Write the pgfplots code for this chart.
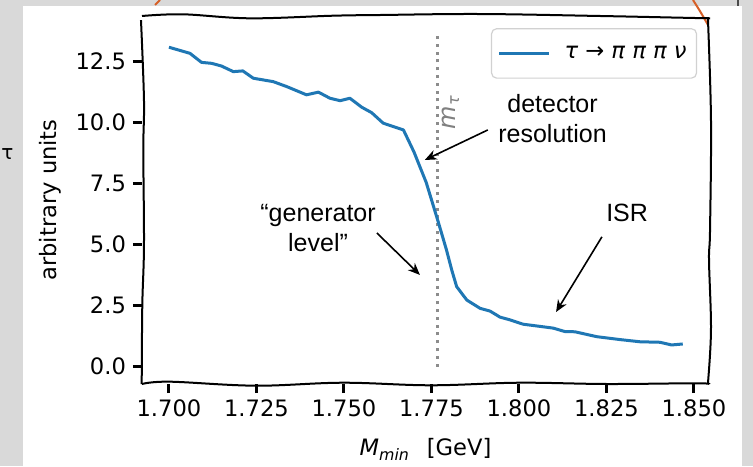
\documentclass[border=0pt]{standalone}
\usepackage{pgfplots}
\pgfplotsset{compat=1.18}
\usepackage{fontspec}
\setmainfont{DejaVu Sans}
\newfontfamily\helv{Liberation Sans}
\usetikzlibrary{arrows.meta}

\definecolor{slidegray}{RGB}{217,217,217}
\definecolor{mplblue}{RGB}{31,119,180}
\definecolor{slideorange}{RGB}{214,96,40}

% tau -> 3 pi nu : M_min distribution
\pgfplotstableread{
x       y
1.7000  13.09
1.7060  12.84
1.7093  12.47
1.7122  12.43
1.7150  12.32
1.7184  12.09
1.7211  12.12
1.7241  11.82
1.7298  11.68
1.7336  11.48
1.7393  11.14
1.7427  11.25
1.7460  11.00
1.7489  10.90
1.7517  11.00
1.7551  10.63
1.7579  10.41
1.7612   9.98
1.7641   9.84
1.7670   9.70
1.7700   8.80
1.7735   7.55
1.7769   5.95
1.7793   4.78
1.7808   3.96
1.7822   3.28
1.7851   2.73
1.7889   2.39
1.7917   2.28
1.7946   2.03
1.7974   1.92
1.8012   1.74
1.8050   1.67
1.8098   1.58
1.8131   1.44
1.8160   1.43
1.8222   1.23
1.8289   1.11
1.8346   1.02
1.8403   1.00
1.8436   0.89
1.8468   0.93
}\spectrum

\begin{document}
\begin{tikzpicture}[x=0.5pt,y=0.5pt]
\path[use as bounding box] (0,0) rectangle (753,466);
% slide background
\fill[slidegray] (0,0) rectangle (753,466);
\fill[white] (23,0) rectangle (742,460);
\draw[black!70, line width=0.6pt] (738,460) -- (738,466);
\draw[slideorange, line width=1pt] (155,461) -- (160,466);
\draw[slideorange, line width=1pt] (693,466) .. controls (700,455) .. (708,441);
\node[font=\fontsize{10}{12}\selectfont, anchor=west, inner sep=0pt] at (1,312) {τ};
\coordinate (axsw) at (142,82);

\begin{axis}[
  at={(axsw)}, anchor=south west,
  scale only axis, width=283.5pt, height=184pt,
  xmin=1.6923, xmax=1.8543, ymin=-0.71, ymax=14.37,
  clip=false,
  axis line style={draw=none},
  xtick={1.700,1.725,1.750,1.775,1.800,1.825,1.850},
  ytick={0,2.5,5,7.5,10,12.5},
  xtick pos=bottom, ytick pos=left,
  tick align=outside, major tick length=4.5pt,
  tick style={black, line width=1.5pt},
  tick label style={font=\fontsize{11.3}{13}\selectfont},
  /pgf/number format/assume math mode=true,
  scaled x ticks=false,
  xticklabel style={/pgf/number format/.cd, fixed, fixed zerofill, precision=3},
  yticklabel style={/pgf/number format/.cd, fixed, fixed zerofill, precision=1},
  xlabel={{\itshape M\textsubscript{min}}\hspace{0.75em}[GeV]},
  ylabel={arbitrary units},
  xlabel style={at={(axis description cs:0.5,-0.178)}, anchor=center, font=\fontsize{11.3}{13}\selectfont},
  ylabel style={at={(axis description cs:-0.162,0.5)}, anchor=center, font=\fontsize{11.3}{13}\selectfont},
  legend style={at={(axis description cs:0.979,0.967)}, anchor=north east,
    draw=black!18, rounded corners=2.5pt, fill=white, line width=0.6pt,
    font=\itshape\fontsize{11.3}{13}\selectfont,
    inner xsep=3pt, inner ysep=6.5pt},
  legend cell align=left,
  legend image code/.code={\draw[#1] (0pt,0pt) -- (25pt,0pt);},
]
% tau mass
\addplot[gray!90, line width=1.5pt, dash pattern=on 1.5pt off 2.4pt, forget plot]
  coordinates {(1.7766,0) (1.7766,13.68)};
\addplot[mplblue, line width=1.5pt, line join=round] table[x=x, y=y] {\spectrum};
\addlegendentry{\hspace*{5pt}τ → π π π ν\hspace{2pt}}

\node[rotate=90, text=gray, font=\itshape\fontsize{12}{14}\selectfont]
  at (axis cs:1.7805,10.43) {m\textsubscript{τ}};

% annotations
\node[font=\helv\fontsize{12.5}{15}\selectfont, align=center] at (axis cs:1.8096,10.18) {detector\\resolution};
\node[font=\helv\fontsize{12.5}{15}\selectfont] at (axis cs:1.8309,6.30) {ISR};
\node[font=\helv\fontsize{12.5}{15}\selectfont, align=center] at (axis cs:1.7426,5.68) {“generator\\level”};
\draw[-{Stealth[length=6pt,width=5pt]}, line width=0.8pt] (axis cs:1.7911,9.70) -- (axis cs:1.7731,8.47);
\draw[-{Stealth[length=6pt,width=5pt]}, line width=0.8pt] (axis cs:1.7594,5.48) -- (axis cs:1.7717,3.76);
\draw[-{Stealth[length=6pt,width=5pt]}, line width=0.8pt] (axis cs:1.8237,5.32) -- (axis cs:1.8106,2.24);

% hand-drawn frame
\draw[black, line width=1pt] plot[smooth, tension=0.6] coordinates {
  (rel axis cs:0,0) (rel axis cs:0.049,0.0063) (rel axis cs:0.201,-0.0046)
  (rel axis cs:0.3545,0.0035) (rel axis cs:0.5097,-0.0035) (rel axis cs:0.665,0.0035)
  (rel axis cs:0.820,0) (rel axis cs:0.9735,0.002) (rel axis cs:1,0)};
\draw[black, line width=1pt] plot[smooth, tension=0.6] coordinates {
  (rel axis cs:0,1) (rel axis cs:0.0723,1.0046) (rel axis cs:0.1905,0.9937)
  (rel axis cs:0.337,1.0008) (rel axis cs:0.42,1.0027) (rel axis cs:0.596,1.0054)
  (rel axis cs:0.808,1.0) (rel axis cs:0.949,0.9954) (rel axis cs:1.0018,0.9937)};
\draw[black, line width=1pt] plot[smooth, tension=0.6] coordinates {
  (rel axis cs:-0.0018,0.989) (rel axis cs:0.0035,0.772) (rel axis cs:0.0023,0.636)
  (rel axis cs:0.0035,0.378) (rel axis cs:0.0005,0.212) (rel axis cs:-0.0005,0)};
\draw[black, line width=1pt] plot[smooth, tension=0.6] coordinates {
  (rel axis cs:0.998,0.997) (rel axis cs:1.0035,0.717) (rel axis cs:1.0018,0.418)
  (rel axis cs:1.0,0.337) (rel axis cs:1.0035,0.147) (rel axis cs:0.998,0)};
\end{axis}
\end{tikzpicture}
\end{document}
